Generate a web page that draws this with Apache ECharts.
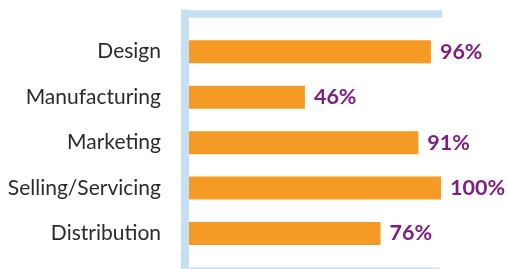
<!DOCTYPE html>
<html>
<head>
<meta charset="utf-8">
<script src="https://cdn.jsdelivr.net/npm/echarts@6/dist/echarts.min.js"></script>
<style>
  html, body { margin: 0; padding: 0; background: #fff; }
  #chart { width: 508px; height: 269px; }
</style>
</head>
<body>
<div id="chart"></div>
<script>
const categories = ['Design', 'Manufacturing', 'Marketing', 'Selling/Servicing', 'Distribution'];
const values = [96, 46, 91, 100, 76];

const frameColor = '#c6e0f3';

const chart = echarts.init(document.getElementById('chart'));
chart.setOption({
  animation: false,
  grid: [
    // bars
    { left: 189, right: 67, top: 29, bottom: 12.75 },
    // frame only
    { left: 185, right: 69.75, top: 13.8, bottom: 1 }
  ],
  xAxis: [
    { gridIndex: 0, type: 'value', min: 0, max: 100, show: false },
    {
      gridIndex: 1, type: 'value', position: 'top', min: 0, max: 1,
      axisLine: { show: true, onZero: false, lineStyle: { color: frameColor, width: 7.5, cap: 'square' } },
      axisTick: { show: false }, axisLabel: { show: false }, splitLine: { show: false }
    },
    {
      gridIndex: 1, type: 'value', position: 'bottom', min: 0, max: 1,
      axisLine: { show: true, onZero: false, lineStyle: { color: '#d3e6f5', width: 2.5, cap: 'square' } },
      axisTick: { show: false }, axisLabel: { show: false }, splitLine: { show: false }
    }
  ],
  yAxis: [
    {
      gridIndex: 0, type: 'category', data: categories, inverse: true,
      axisLine: { show: false }, axisTick: { show: false }, splitLine: { show: false },
      axisLabel: {
        margin: 28,
        color: '#2b2b2b',
        fontSize: 21,
        fontFamily: 'Lato'
      }
    },
    {
      gridIndex: 1, type: 'value', min: 0, max: 1,
      axisLine: { show: true, onZero: false, lineStyle: { color: frameColor, width: 8, cap: 'square' } },
      axisTick: { show: false }, axisLabel: { show: false }, splitLine: { show: false }
    }
  ],
  series: [
    {
      type: 'bar',
      xAxisIndex: 0,
      yAxisIndex: 0,
      data: values,
      barWidth: 23,
      itemStyle: { color: '#f59a25' },
      label: {
        show: true,
        position: 'right',
        distance: 9,
        formatter: '{c}%',
        color: '#7d1f80',
        fontSize: 21.5,
        fontWeight: 'bold',
        fontFamily: 'Lato'
      }
    }
  ]
});
</script>
</body>
</html>
